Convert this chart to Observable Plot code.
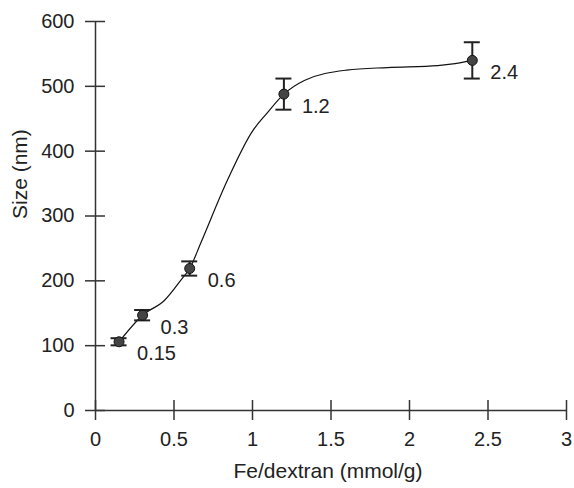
<!DOCTYPE html>
<html>
<head>
<meta charset="utf-8">
<script src="https://cdn.jsdelivr.net/npm/d3@7"></script>
<script src="https://cdn.jsdelivr.net/npm/@observablehq/plot@0.6"></script>
<style>
  html, body { margin: 0; padding: 0; background: #fff; }
  #chart svg { font-family: "Liberation Sans", Arial, sans-serif; }
</style>
</head>
<body>
<div id="chart"></div>
<script>
// Measured points (Fe/dextran ratio vs size)
const ratio = [0.15, 0.3, 0.6, 1.2, 2.4];
const size = [106, 147, 219, 488, 540];
const sizeErr = [5.5, 8, 11, 24, 28];
const pointLabels = ["0.15", "0.3", "0.6", "1.2", "2.4"];

// Fitted smooth curve
const curveX = [0.15, 0.3, 0.44, 0.55, 0.6, 0.67, 0.84, 1.0, 1.09, 1.2, 1.33, 1.6, 1.86, 2.18, 2.29, 2.4];
const curveY = [106, 147, 170, 203, 219, 258, 355, 431, 458, 488, 509, 525, 529, 532, 535, 540];

// Axis ticks
const xTicks = [0, 0.5, 1, 1.5, 2, 2.5, 3];
const yTicks = [0, 100, 200, 300, 400, 500, 600];

const points = ratio.map((x, i) => ({x, y: size[i], lo: size[i] - sizeErr[i], hi: size[i] + sizeErr[i], label: pointLabels[i]}));
const curve = curveX.map((x, i) => ({x, y: curveY[i]}));

const axisColor = "#333";
const ink = "#222";

const chart = Plot.plot({
  width: 574,
  height: 488,
  marginLeft: 95,
  marginRight: 8,
  marginTop: 21,
  marginBottom: 78,
  style: {fontSize: "20px", color: ink, background: "#fff"},
  x: {domain: [0, 3], axis: null},
  y: {domain: [0, 600], axis: null},
  marks: [
    // axis lines
    Plot.ruleY([0], {stroke: axisColor, strokeWidth: 1.5}),
    Plot.ruleX([0], {stroke: axisColor, strokeWidth: 1.5}),
    // crossing ticks
    Plot.ruleX(xTicks, {x: d => d, y1: 0, y2: 0, insetTop: -10, insetBottom: -10, stroke: axisColor, strokeWidth: 1.5}),
    Plot.ruleY(yTicks, {y: d => d, x1: 0, x2: 0, insetLeft: -10, insetRight: -10, stroke: axisColor, strokeWidth: 1.5}),
    // tick labels
    Plot.text(xTicks, {x: d => d, frameAnchor: "bottom", dy: 35, text: d => String(d), fontSize: 20, fill: ink}),
    Plot.text(yTicks, {y: d => d, frameAnchor: "left", textAnchor: "end", dx: -21, text: d => String(d), fontSize: 20, fill: ink}),
    // axis titles
    Plot.text(["Fe/dextran (mmol/g)"], {frameAnchor: "bottom", dy: 67, dx: -3, fontSize: 21, fill: ink}),
    Plot.text(["Size (nm)"], {frameAnchor: "left", rotate: -90, dx: -75, dy: 3, fontSize: 21, fill: ink}),
    // curve
    Plot.line(curve, {x: "x", y: "y", curve: "monotone-x", stroke: "#111", strokeWidth: 1.2}),
    // error bars
    Plot.ruleX(points, {x: "x", y1: "lo", y2: "hi", stroke: "#222", strokeWidth: 2}),
    Plot.ruleY(points, {y: "lo", x1: "x", x2: "x", insetLeft: -8, insetRight: -8, stroke: "#222", strokeWidth: 2}),
    Plot.ruleY(points, {y: "hi", x1: "x", x2: "x", insetLeft: -8, insetRight: -8, stroke: "#222", strokeWidth: 2}),
    // points
    Plot.dot(points, {x: "x", y: "y", r: 5, fill: "#444", stroke: "#111", strokeWidth: 1}),
    // point labels
    Plot.text(points, {x: "x", y: "y", text: "label", textAnchor: "start", dx: 18, dy: 12, fontSize: 20, fill: ink})
  ]
});
document.getElementById("chart").appendChild(chart);
</script>
</body>
</html>
